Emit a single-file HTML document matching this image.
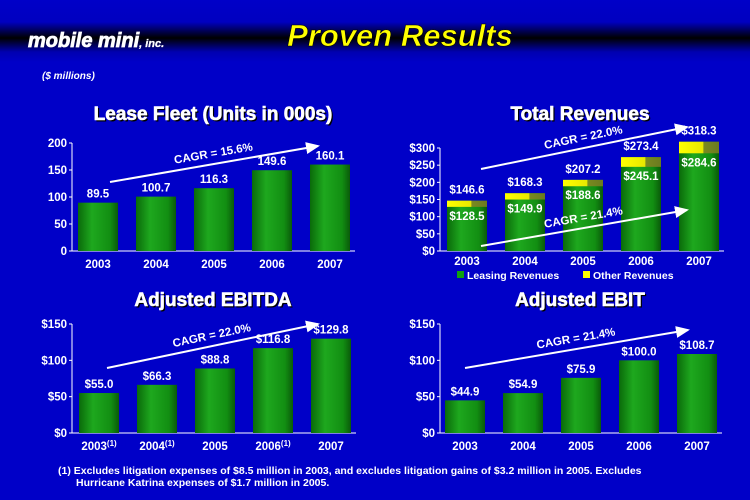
<!DOCTYPE html>
<html><head><meta charset="utf-8">
<style>
body{margin:0;width:750px;height:500px;overflow:hidden;font-family:"Liberation Sans",Arial,sans-serif}
#bg{position:absolute;left:0;top:0;width:750px;height:500px;background:linear-gradient(#0000c8 0,#0000c0 22px,#000 38px,#0000b0 52px,#0000c8 62px,#0000c8 100%)}
svg{position:absolute;left:0;top:0}
</style></head><body>
<div id="bg"></div>
<svg id="s" width="750" height="500">
<defs>
<linearGradient id="g" x1="0" x2="1"><stop offset="0" stop-color="#0a6a0a"/><stop offset="0.35" stop-color="#1ea81e"/><stop offset="0.8" stop-color="#128e12"/><stop offset="1" stop-color="#0a5a0a"/></linearGradient>
<linearGradient id="y" x1="0" x2="1"><stop offset="0" stop-color="#ffff00"/><stop offset="0.6" stop-color="#e8e800"/><stop offset="0.62" stop-color="#7a8a20"/><stop offset="1" stop-color="#6a7a20"/></linearGradient>
<marker id="ah" markerWidth="8" markerHeight="8" refX="6" refY="4" orient="auto"><path d="M0,1 L7,4 L0,7 z" fill="#fff"/></marker>
</defs>
<text x="28" y="47" font-size="20" font-style="italic" font-weight="bold" fill="#fff" stroke="#fff" stroke-width="0.8">mobile mini<tspan font-size="11" stroke-width="0.3">, inc.</tspan></text>
<text x="400" y="46" text-anchor="middle" font-size="31" font-style="italic" font-weight="bold" fill="#ffff00" stroke="#000" stroke-width="0.6">Proven Results</text>
<text x="42" y="79" font-size="10" font-style="italic" font-weight="bold" fill="#fff">($ millions)</text>
<g id="charts"></g>
<text x="58" y="474" font-size="10.5" font-weight="bold" fill="#fff">(1) Excludes litigation expenses of $8.5 million in 2003, and excludes litigation gains of $3.2 million in 2005.  Excludes</text>
<text x="76" y="486" font-size="10.5" font-weight="bold" fill="#fff">Hurricane Katrina expenses of $1.7 million in 2005.</text>
</svg>
<script>
const years=["2003","2004","2005","2006","2007"];
const fleetValues=[89.5,100.7,116.3,149.6,160.1];
const fleetTicks=[0,50,100,150,200];
const leasingValues=[128.5,149.9,188.6,245.1,284.6];
const totalRevenueValues=[146.6,168.3,207.2,273.4,318.3];
const revenueTicks=[0,50,100,150,200,250,300];
const ebitdaValues=[55.0,66.3,88.8,116.8,129.8];
const ebitValues=[44.9,54.9,75.9,100.0,108.7];
const dollarTicks=[0,50,100,150];
const ebitdaYearNotes=["(1)","(1)","","(1)",""];

const NS="http://www.w3.org/2000/svg";
const root=document.getElementById('charts');
function mk(tag,attrs,parent,text){const e=document.createElementNS(NS,tag);for(const k in attrs)e.setAttribute(k,attrs[k]);if(text!==undefined)e.textContent=text;(parent||root).appendChild(e);return e;}

function chart(cfg){
  const g=mk('g',{});
  
  
  const y=v=>cfg.y0-(v-cfg.min)/(cfg.max-cfg.min)*(cfg.y0-cfg.y1);
  const x=i=>cfg.x0+i*58;
  mk('text',{x:cfg.tx+1.5,y:cfg.ty+1.5,'text-anchor':'middle','font-size':19,'font-weight':'bold',fill:'#000'},g,cfg.title);
  const t=mk('text',{x:cfg.tx,y:cfg.ty,'text-anchor':'middle','font-size':19,'font-weight':'bold',fill:'#fff',stroke:'#fff','stroke-width':0.6},g,cfg.title);
  
  
  const ax=mk('line',{x1:cfg.ax,x2:cfg.ax,y1:cfg.y1,y2:cfg.y0,stroke:'#fff','stroke-width':1},g);
  
  
  mk('line',{x1:cfg.ax,x2:cfg.x0+4*58+25,y1:cfg.y0,y2:cfg.y0,stroke:'#fff','stroke-width':1},g);
  cfg.ticks.forEach(v=>{
    mk('line',{x1:cfg.ax-3,x2:cfg.ax,y1:y(v),y2:y(v),stroke:'#fff'},g);
    const tl=mk('text',{x:cfg.ax-5,y:y(v)+4,'text-anchor':'end','font-size':11.5,'font-weight':'bold',fill:'#fff'},g,cfg.fmt(v));
    
    
  });
  cfg.top.forEach((v,i)=>{
    const bx=x(i)-20;
    const b=mk('rect',{x:bx,y:y(v),width:40,height:cfg.y0-y(v),fill:'url(#g)'},g);
    
    
    if(cfg.lower){
      const ly=y(cfg.lower[i]);
      const s=mk('rect',{x:bx,y:y(v),width:40,height:ly-y(v),fill:'url(#y)'},g);
      
      
      const l=mk('text',{x:x(i),y:ly+13,'text-anchor':'middle','font-size':11.5,'font-weight':'bold',fill:'#fff'},g,'$'+cfg.lower[i].toFixed(1));
      
      
    }
    const vl=mk('text',{x:x(i),y:y(v)-(cfg.lower?7:5),'text-anchor':'middle','font-size':11.5,'font-weight':'bold',fill:'#fff'},g,cfg.vfmt(v));
    
    
    const yl=mk('text',{x:x(i),y:cfg.y0+(cfg.lower?14:17),'text-anchor':'middle','font-size':11.5,'font-weight':'bold',fill:'#fff'},g,years[i]);
    if(cfg.notes&&cfg.notes[i]){mk('tspan',{'font-size':8,dy:-4},yl,cfg.notes[i]);}
    
    
  });
  if(cfg.lower){
    const lg=mk('g',{},g);
    
    
    mk('rect',{x:457,y:271,width:7,height:7,fill:'#10a010'},lg);
    mk('text',{x:467,y:279,'font-size':10.5,'font-weight':'bold',fill:'#fff'},lg,'Leasing Revenues');
    mk('rect',{x:583,y:271,width:7,height:7,fill:'#ffff00'},lg);
    mk('text',{x:593,y:279,'font-size':10.5,'font-weight':'bold',fill:'#fff'},lg,'Other Revenues');
  }
  cfg.arrows.forEach(a=>{
    const ar=mk('line',{x1:a[0],y1:a[1],x2:a[2],y2:a[3],stroke:'#fff','stroke-width':2,'marker-end':'url(#ah)'},g);
    
    
    const ang=Math.atan2(a[3]-a[1],a[2]-a[0])*180/Math.PI;
    const cx=(a[0]+a[2])/2+a[5], cy=(a[1]+a[3])/2-7;
    const ct=mk('text',{x:cx,y:cy,'text-anchor':'middle','font-size':11.5,'font-weight':'bold',fill:'#fff',transform:`rotate(${ang} ${cx} ${cy})`},g,a[4]);
    
    
  });
}
const num=v=>String(v), dol=v=>'$'+v;
chart({name:'lease-fleet-chart',title:'Lease Fleet (Units in 000s)',tx:213,ty:120,ax:72,x0:98,y0:251,y1:143,min:0,max:200,ticks:fleetTicks,fmt:num,top:fleetValues,vfmt:v=>v.toFixed(1),arrows:[[110,182,318,146,'CAGR = 15.6%',0]]});
chart({name:'total-revenues-chart',title:'Total Revenues',tx:580,ty:120,ax:440,x0:467,y0:251,y1:148,min:0,max:300,ticks:revenueTicks,fmt:dol,top:totalRevenueValues,lower:leasingValues,vfmt:v=>'$'+v.toFixed(1),arrows:[[481,169,687,127,'CAGR = 22.0%',0],[481,246,687,210,'CAGR = 21.4%',0]]});
chart({name:'adjusted-ebitda-chart',title:'Adjusted EBITDA',tx:213,ty:306,ax:72,x0:99,y0:433,y1:324,min:0,max:150,ticks:dollarTicks,fmt:dol,top:ebitdaValues,vfmt:v=>'$'+v.toFixed(1),notes:ebitdaYearNotes,arrows:[[107,368,318,324,'CAGR = 22.0%',0]]});
chart({name:'adjusted-ebit-chart',title:'Adjusted EBIT',tx:580,ty:306,ax:440,x0:465,y0:433,y1:324,min:0,max:150,ticks:dollarTicks,fmt:dol,top:ebitValues,vfmt:v=>'$'+v.toFixed(1),arrows:[[465,368,688,330,'CAGR = 21.4%',0]]});
</script>
</body></html>
